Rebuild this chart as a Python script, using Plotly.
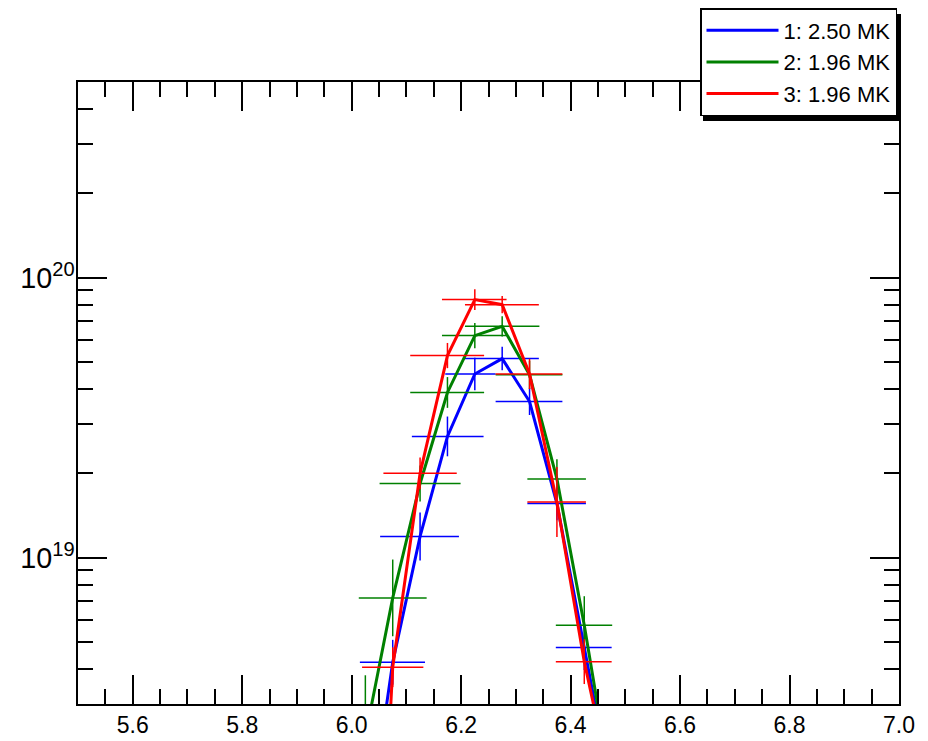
import plotly.graph_objects as go

# ---- data ----
log_t = [6.025, 6.075, 6.125, 6.175, 6.225, 6.275, 6.325, 6.375, 6.425, 6.475]

labels = ["1: 2.50 MK", "2: 1.96 MK", "3: 1.96 MK"]
colors = ["#0000ff", "#008000", "#ff0000"]

dem_1 = [8.9e17, 4.23e18, 1.19e19, 2.71e19, 4.53e19, 5.14e19, 3.61e19, 1.56e19, 4.77e18, 1.46e18]
dem_2 = [2.3e18, 7.18e18, 1.84e19, 3.89e19, 6.21e19, 6.70e19, 4.5e19, 1.91e19, 5.73e18, 1.49e18]
dem_3 = [5e16, 4.06e18, 2.0e19, 5.27e19, 8.35e19, 8.01e19, 4.53e19, 1.58e19, 4.25e18, 1.5e18]

# horizontal error-bar extents (logT low / high)
xlo_1 = [5.965, 6.015, 6.052, 6.110, 6.171, 6.207, 6.263, 6.321, 6.373, 6.42]
xhi_1 = [6.085, 6.134, 6.196, 6.241, 6.263, 6.342, 6.385, 6.428, 6.475, 6.53]
xlo_2 = [5.96, 6.013, 6.051, 6.107, 6.165, 6.207, 6.263, 6.321, 6.373, 6.42]
xhi_2 = [6.09, 6.137, 6.199, 6.242, 6.283, 6.343, 6.385, 6.428, 6.476, 6.53]
xlo_3 = [5.96, 6.019, 6.058, 6.107, 6.165, 6.207, 6.263, 6.321, 6.373, 6.42]
xhi_3 = [6.09, 6.131, 6.192, 6.242, 6.283, 6.342, 6.385, 6.428, 6.475, 6.53]

# vertical error half-widths in decades
dlog_1 = [0.1, 0.08, 0.086, 0.071, 0.058, 0.042, 0.048, 0.06, 0.08, 0.1]
dlog_2 = [0.218, 0.137, 0.064, 0.055, 0.045, 0.036, 0.05, 0.07, 0.104, 0.12]
dlog_3 = [0.3, 0.071, 0.057, 0.045, 0.037, 0.031, 0.054, 0.125, 0.08, 0.1]

x_range = [5.5, 7.0]
y_range = [3e18, 5e20]
x_ticks = [5.6, 5.8, 6.0, 6.2, 6.4, 6.6, 6.8, 7.0]

series = [
    (dem_1, xlo_1, xhi_1, dlog_1),
    (dem_2, xlo_2, xhi_2, dlog_2),
    (dem_3, xlo_3, xhi_3, dlog_3),
]

fig = go.Figure()
for (dem, xlo, xhi, dl), name, col in zip(series, labels, colors):
    plus_y = [v * (10 ** d - 1) for v, d in zip(dem, dl)]
    minus_y = [v * (1 - 10 ** (-d)) for v, d in zip(dem, dl)]
    plus_x = [h - x for h, x in zip(xhi, log_t)]
    minus_x = [x - l for l, x in zip(xlo, log_t)]
    fig.add_trace(go.Scatter(
        x=log_t, y=dem, mode="lines", name=name,
        line=dict(color=col, width=3),
        error_x=dict(type="data", symmetric=False, array=plus_x, arrayminus=minus_x,
                     color=col, thickness=1.5, width=0),
        error_y=dict(type="data", symmetric=False, array=plus_y, arrayminus=minus_y,
                     color=col, thickness=1.5, width=0),
    ))

font_family = "Liberation Sans, Arial, Helvetica, sans-serif"

# the page body adds an 8px offset; figure coordinates = screen - 8
OFF = 8
W, H = 928 - OFF, 741 - OFF
L, T = 78 - OFF, 82 - OFF
R = W - (899 - OFF)
B = H - (704 - OFF)
pw, ph = W - L - R, H - T - B


def px_x(p):
    return (p - OFF - L) / pw


def px_y(p):
    return (H - B - (p - OFF)) / ph


# legend drop shadow
fig.add_shape(type="rect", xref="paper", yref="paper",
              x0=px_x(703), x1=px_x(901), y0=px_y(121), y1=px_y(14),
              fillcolor="black", line=dict(width=0), layer="above")

fig.update_layout(
    width=W, height=H,
    margin=dict(l=L, r=R, t=T, b=B, autoexpand=False),
    paper_bgcolor="white", plot_bgcolor="white",
    font=dict(family=font_family, size=24, color="black"),
    showlegend=True,
    legend=dict(
        x=px_x(897), y=px_y(8), xanchor="right", yanchor="top",
        bgcolor="white", bordercolor="black", borderwidth=1.5,
        font=dict(size=22, color="black"),
        itemwidth=72, tracegroupgap=0,
    ),
    xaxis=dict(
        range=x_range, tickvals=x_ticks, ticktext=[f"{v:.1f}" for v in x_ticks],
        showgrid=False, zeroline=False, automargin=False,
        showline=True, linecolor="black", linewidth=1.5, mirror="ticks",
        ticks="inside", ticklen=29, tickwidth=1.5, tickcolor="black",
        minor=dict(ticks="inside", ticklen=15, tickwidth=1.5, tickcolor="black",
                   dtick=0.05, tick0=5.5, showgrid=False),
        tickfont=dict(size=23),
    ),
    yaxis=dict(
        type="log", range=[18.4771, 20.699],
        dtick=1, exponentformat="power", showexponent="all",
        showgrid=False, zeroline=False, automargin=False,
        showline=True, linecolor="black", linewidth=1.5, mirror="ticks",
        ticks="inside", ticklen=29, tickwidth=1.5, tickcolor="black",
        minor=dict(ticks="inside", ticklen=15, tickwidth=1.5, tickcolor="black",
                   dtick="D1", showgrid=False),
        tickfont=dict(size=23), ticklabelstandoff=-3,
    ),
)

fig.write_html("out.html")
